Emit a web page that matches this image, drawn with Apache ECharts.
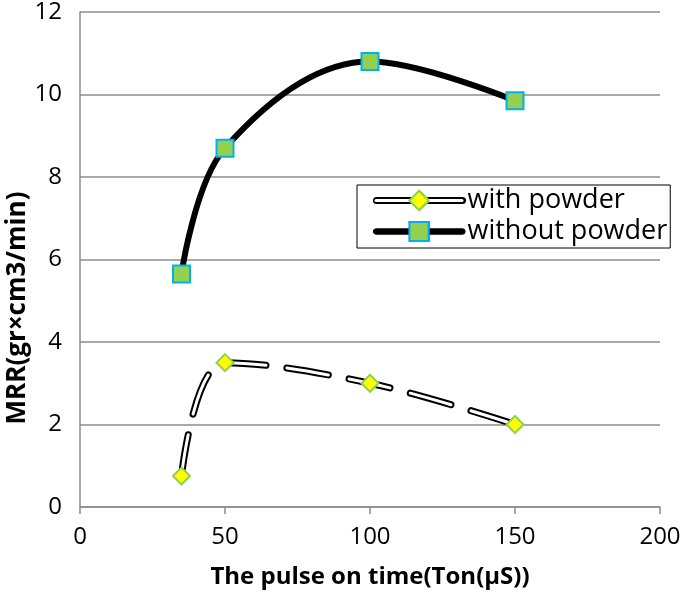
<!DOCTYPE html>
<html><head><meta charset="utf-8">
<script src="https://cdn.jsdelivr.net/npm/echarts@6/dist/echarts.min.js"></script>
<style>html,body{margin:0;padding:0;background:#fff}#c{width:685px;height:597px}</style>
</head><body><div id="c"></div>
<script>
const xValues = [35, 50, 100, 150];
const withPowder = [0.75, 3.5, 3.0, 2.0];
const withoutPowder = [5.65, 8.7, 10.8, 9.85];
const xTicks = [0, 50, 100, 150, 200];
const yTicks = [0, 2, 4, 6, 8, 10, 12];
const seriesNames = ['with powder', 'without powder'];
const xTitle = 'The pulse on time(Ton(μS))';
const yTitle = 'MRR(gr×cm3/min)';

const pairs = (ys) => xValues.map((x, i) => [x, ys[i]]);
const FONT = '"Open Sans", sans-serif';
const dash = [42, 21];
const SMOOTH = 0.36;

const legendCommon = {
  orient: 'vertical', left: 357, top: 185,
  itemWidth: 86, itemHeight: 24, itemGap: 4,
  padding: [2, 3, 3, 16],
  selectedMode: false
};

const chart = echarts.init(document.getElementById('c'));
chart.setOption({
  animation: false,
  grid: {left: 80, right: 25, top: 12, bottom: 90, containLabel: false, outerBoundsMode: 'none'},
  xAxis: {
    type: 'value', min: xTicks[0], max: xTicks[xTicks.length - 1], interval: 50,
    name: xTitle, nameLocation: 'middle', nameGap: 58, nameMoveOverlap: false,
    nameTextStyle: {fontFamily: FONT, fontWeight: 'bold', fontSize: 24, color: '#000'},
    axisLine: {show: true, lineStyle: {color: '#8c8c8c', width: 1.5}},
    axisTick: {show: true, length: 7, lineStyle: {color: '#8c8c8c', width: 1.5}},
    axisLabel: {fontFamily: FONT, fontSize: 24, color: '#000', margin: 18},
    splitLine: {show: false}
  },
  yAxis: {
    type: 'value', min: yTicks[0], max: yTicks[yTicks.length - 1], interval: 2,
    name: '{t|' + yTitle + '}{s| }', nameLocation: 'middle', nameGap: 49, nameMoveOverlap: false,
    nameTextStyle: {
      fontFamily: FONT, fontWeight: 'bold', fontSize: 26, color: '#000',
      rich: {
        t: {fontFamily: FONT, fontWeight: 'bold', fontSize: 26, color: '#000'},
        s: {width: 97, fontSize: 26}
      }
    },
    axisLine: {show: true, lineStyle: {color: '#8c8c8c', width: 1.5}},
    axisTick: {show: false},
    axisLabel: {fontFamily: FONT, fontSize: 24, color: '#000', margin: 18},
    splitLine: {show: true, lineStyle: {color: '#8c8c8c', width: 1.5}}
  },
  legend: [Object.assign({}, legendCommon, {
    data: [
      {name: seriesNames[0], lineStyle: {color: '#000', width: 7, type: 'solid', cap: 'round'}},
      {name: seriesNames[1], lineStyle: {color: '#000', width: 6, type: 'solid', cap: 'round'}}
    ],
    backgroundColor: '#fff', borderColor: '#000', borderWidth: 1,
    textStyle: {fontFamily: FONT, fontSize: 27, color: '#000'}
  }), Object.assign({}, legendCommon, {
    data: [
      {name: seriesNames[0], lineStyle: {color: '#fff', width: 3, type: 'solid'}},
      {name: seriesNames[1], lineStyle: {color: '#000', width: 6, type: 'solid', cap: 'round'}}
    ],
    borderWidth: 0,
    textStyle: {fontFamily: FONT, fontSize: 27, color: 'rgba(0,0,0,0)'}
  })],
  series: [
    {
      name: 'with powder outline', type: 'line', smooth: SMOOTH, data: pairs(withPowder),
      symbol: 'none', z: 2, silent: true,
      lineStyle: {color: '#000', width: 7, type: dash, cap: 'round'}
    },
    {
      name: seriesNames[0], type: 'line', smooth: SMOOTH, data: pairs(withPowder),
      symbol: 'diamond', symbolSize: 17, z: 3,
      itemStyle: {color: '#ffff00', borderColor: '#92d050', borderWidth: 2},
      lineStyle: {color: '#fff', width: 3, type: dash, cap: 'round'}
    },
    {
      name: seriesNames[1], type: 'line', smooth: SMOOTH, data: pairs(withoutPowder),
      symbol: 'rect', symbolSize: 17, z: 4,
      itemStyle: {color: '#92d050', borderColor: '#00b0f0', borderWidth: 2},
      lineStyle: {color: '#000', width: 6}
    }
  ]
});
</script></body></html>
